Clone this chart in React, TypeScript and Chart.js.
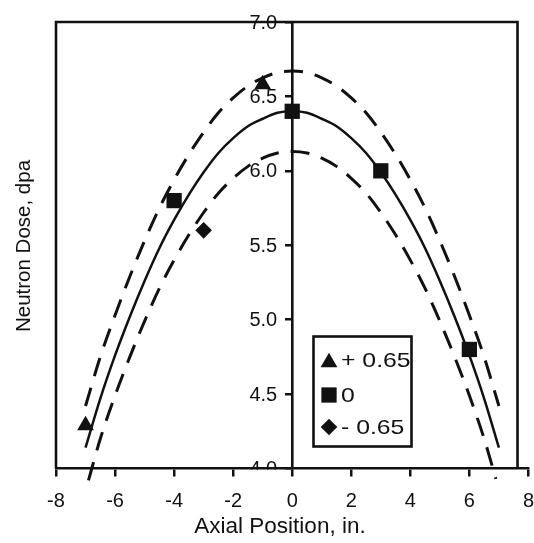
import React, { useEffect, useRef } from 'react';
import { Chart, registerables } from 'chart.js';
import { drawPoint } from 'chart.js/helpers';

Chart.register(...registerables);

const FONT = '"Liberation Sans", Arial, sans-serif';

// ---- data ----
const seriesLabels = ['+ 0.65', '0', '- 0.65'];

const plusX = [-7, -1];
const plusY = [4.29, 6.58];

const zeroX = [-4, 0, 3, 6];
const zeroY = [5.8, 6.4, 6.0, 4.8];

const minusX = [-3];
const minusY = [5.6];

// fitted centre curve (solid)
const fitX = [-7, -6.5, -6, -5.5, -5, -4.5, -4, -3.5, -3, -2.5, -2, -1.5, -1, -0.5, 0, 0.5, 1, 1.5, 2, 2.5, 3, 3.5, 4, 4.5, 5, 5.5, 6, 6.5, 7];
const fitY = [4.14, 4.47, 4.76, 5.02, 5.26, 5.48, 5.67, 5.84, 5.99, 6.12, 6.22, 6.3, 6.35, 6.39, 6.4, 6.39, 6.35, 6.3, 6.22, 6.12, 5.99, 5.84, 5.67, 5.48, 5.26, 5.02, 4.76, 4.47, 4.14];

// upper dashed band
const upperX = [-7, -6.5, -6, -5.5, -5, -4.5, -4, -3.5, -3, -2.5, -2, -1.5, -1, -0.5, 0, 0.5, 1, 1.5, 2, 2.5, 3, 3.5, 4, 4.5, 5, 5.5, 6, 6.5, 7];
const upperY = [4.42, 4.75, 5.03, 5.29, 5.53, 5.75, 5.94, 6.11, 6.26, 6.39, 6.49, 6.57, 6.625, 6.66, 6.67, 6.66, 6.625, 6.57, 6.49, 6.39, 6.26, 6.11, 5.94, 5.75, 5.53, 5.29, 5.03, 4.75, 4.42];

// lower dashed band
const lowerX = [-6.9, -6.5, -6, -5.5, -5, -4.5, -4, -3.5, -3, -2.5, -2, -1.5, -1, -0.5, 0, 0.5, 1, 1.5, 2, 2.5, 3, 3.5, 4, 4.5, 5, 5.5, 6, 6.5, 6.9];
const lowerY = [3.92, 4.2, 4.49, 4.75, 4.99, 5.21, 5.4, 5.57, 5.72, 5.85, 5.95, 6.03, 6.085, 6.12, 6.13, 6.12, 6.085, 6.03, 5.95, 5.85, 5.72, 5.57, 5.4, 5.21, 4.99, 4.75, 4.49, 4.2, 3.93];

const xMin = -8;
const xMax = 8;
const xStep = 2;
const yMin = 4;
const yMax = 7;
const yStep = 0.5;
const yAxisAt = 0;
const frameRightValue = 7.63;

const xTitle = 'Axial Position, in.';
const yTitle = 'Neutron Dose, dpa';

const pts = (xs: number[], ys: number[]) => xs.map((x, i) => ({ x, y: ys[i] }));

const markerStyles = [
  { pointStyle: 'triangle', radius: 9.7 },
  { pointStyle: 'rect', radius: 10.8 },
  { pointStyle: 'rectRot', radius: 8.3 },
];

const INK = '#111';

const framePlugin = {
  id: 'framePlugin',
  beforeDatasetsDraw(chart: any) {
    const { ctx, scales } = chart;
    const x = scales.x;
    const y = scales.y;
    const l = x.getPixelForValue(xMin);
    const r = x.getPixelForValue(frameRightValue);
    const t = y.getPixelForValue(yMax);
    const b = y.getPixelForValue(yMin);
    ctx.save();
    ctx.strokeStyle = INK;
    ctx.lineWidth = 2.6;
    ctx.beginPath();
    ctx.moveTo(l, b);
    ctx.lineTo(l, t);
    ctx.lineTo(r, t);
    ctx.lineTo(r, b);
    ctx.stroke();
    ctx.restore();
  },
  afterDraw(chart: any) {
    const { ctx, scales, chartArea } = chart;
    const xs = scales.x;
    const ys = scales.y;

    // y tick labels, left of the centred axis
    ctx.save();
    ctx.beginPath();
    ctx.rect(0, 0, chart.width, chartArea.bottom + 1);
    ctx.clip();
    ctx.fillStyle = INK;
    ctx.font = `20px ${FONT}`;
    ctx.textAlign = 'right';
    ctx.textBaseline = 'middle';
    const ax = xs.getPixelForValue(yAxisAt);
    ys.ticks.forEach((t: any) => {
      ctx.fillText(Number(t.value).toFixed(1), ax - 6 - 9, ys.getPixelForValue(t.value) + 1);
    });
    ctx.restore();

    // axis titles
    ctx.save();
    ctx.fillStyle = INK;
    ctx.font = `22.5px ${FONT}`;
    ctx.textAlign = 'center';
    ctx.textBaseline = 'alphabetic';
    ctx.fillText(xTitle, 280, 533);
    ctx.font = `20.5px ${FONT}`;
    ctx.translate(30, 246);
    ctx.rotate(-Math.PI / 2);
    ctx.fillText(yTitle, 0, 0);
    ctx.restore();

    // legend box
    ctx.save();
    ctx.fillStyle = '#fff';
    ctx.fillRect(313.5, 336.5, 98, 110);
    ctx.strokeStyle = INK;
    ctx.lineWidth = 2.6;
    ctx.strokeRect(313.5, 336.5, 98, 110);
    const rows = [360, 395, 427];
    ctx.font = `21px ${FONT}`;
    ctx.textAlign = 'left';
    ctx.textBaseline = 'middle';
    seriesLabels.forEach((label, i) => {
      ctx.fillStyle = INK;
      ctx.strokeStyle = INK;
      const ms = markerStyles[i];
      const cy = ms.pointStyle === 'triangle' ? rows[i] + ms.radius / 4 : rows[i];
      drawPoint(ctx, { pointStyle: ms.pointStyle as any, radius: ms.radius, rotation: 0, borderWidth: 0 }, 329, cy);
      ctx.save();
      ctx.translate(341, rows[i] + 1);
      ctx.scale(1.18, 1);
      ctx.fillStyle = INK;
      ctx.fillText(label, 0, 0);
      ctx.restore();
    });
    ctx.restore();
  },
};

export default function App() {
  const ref = useRef<HTMLCanvasElement | null>(null);

  useEffect(() => {
    if (!ref.current) return;
    const lineDs = (label: string, xs: number[], ys: number[], dash: number[], width: number) => ({
      label,
      data: pts(xs, ys),
      showLine: true,
      borderColor: INK,
      backgroundColor: INK,
      borderWidth: width,
      borderDash: dash,
      pointRadius: 0,
      pointHoverRadius: 0,
      cubicInterpolationMode: 'monotone' as const,
      clip: false as any,
      order: 2,
    });
    const markerDs = (i: number, xs: number[], ys: number[]) => ({
      label: seriesLabels[i],
      data: pts(xs, ys),
      showLine: false,
      pointStyle: markerStyles[i].pointStyle as any,
      pointRadius: markerStyles[i].radius,
      pointBorderWidth: 0,
      backgroundColor: INK,
      borderColor: INK,
      clip: false as any,
      order: 1,
    });

    const chart = new Chart(ref.current, {
      type: 'scatter',
      data: {
        datasets: [
          lineDs('fit', fitX, fitY, [], 2.5),
          lineDs('upper', upperX, upperY, [19, 12], 3),
          lineDs('lower', lowerX, lowerY, [19, 12], 3),
          markerDs(0, plusX, plusY),
          markerDs(1, zeroX, zeroY),
          markerDs(2, minusX, minusY),
        ],
      },
      options: {
        responsive: false,
        animation: false,
        devicePixelRatio: 1,
        layout: { padding: { left: 56, right: 0, top: 22, bottom: 0 } },
        plugins: { legend: { display: false }, tooltip: { enabled: false }, title: { display: false } },
        scales: {
          x: {
            type: 'linear',
            min: xMin,
            max: xMax,
            position: 'bottom',
            ticks: {
              stepSize: xStep,
              color: INK,
              font: { family: FONT, size: 20 },
              padding: 13,
              maxRotation: 0,
              autoSkip: false,
            },
            grid: { display: true, drawOnChartArea: false, drawTicks: true, tickLength: 8, color: INK, lineWidth: 2.5 },
            border: { display: true, color: INK, width: 2.6 },
            afterFit: (s: any) => {
              s.height = 74.5;
            },
          },
          y: {
            type: 'linear',
            min: yMin,
            max: yMax,
            position: { x: yAxisAt } as any,
            ticks: {
              display: false,
              stepSize: yStep,
            },
            grid: { display: true, drawOnChartArea: false, drawTicks: true, tickLength: 6, color: INK, lineWidth: 2.5 },
            border: { display: true, color: INK, width: 2.6 },
          },
        },
      },
      plugins: [framePlugin],
    });
    return () => chart.destroy();
  }, []);

  return (
    <div style={{ position: 'fixed', left: 0, top: 0, width: 534, height: 543, overflow: 'hidden', background: '#fff' }}>
      <canvas ref={ref} width={547} height={543} style={{ width: 547, height: 543, display: 'block' }} />
    </div>
  );
}
